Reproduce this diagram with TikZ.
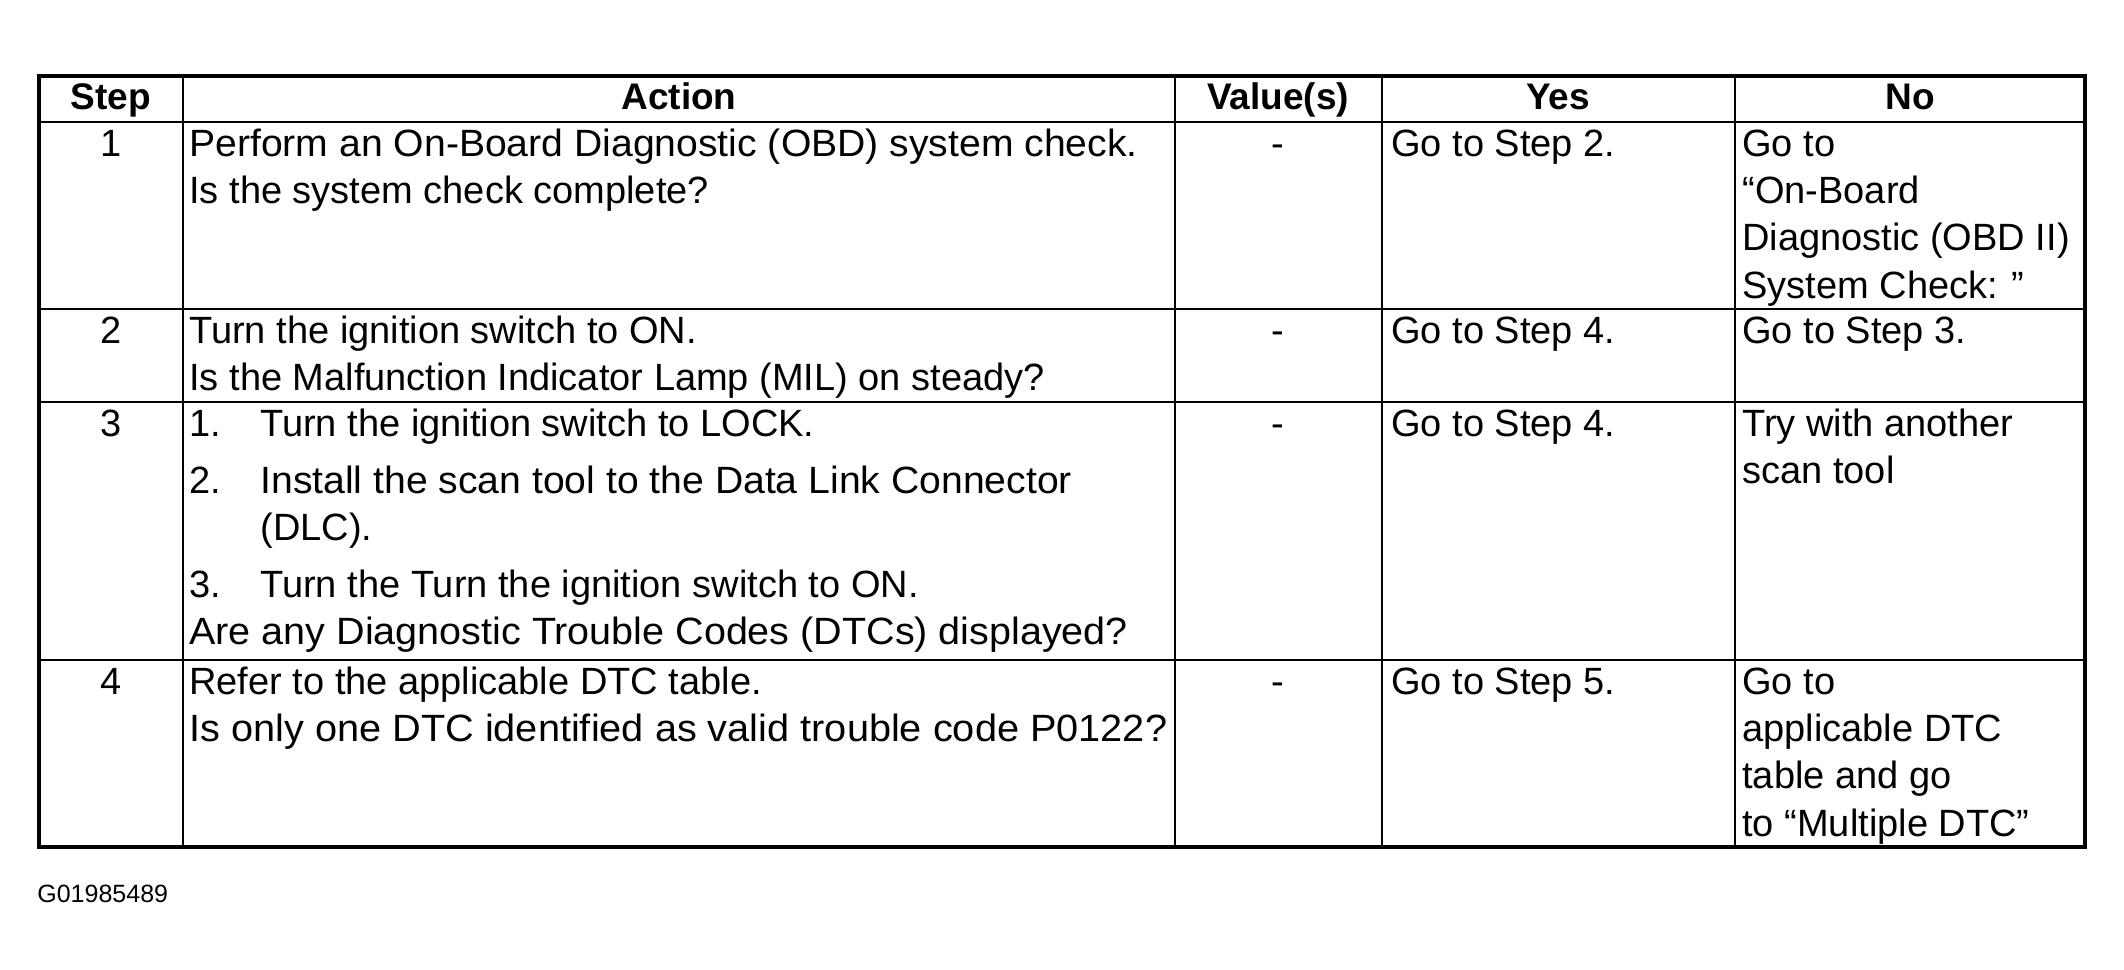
\documentclass[tikz,border=0pt]{standalone}
\usepackage{graphicx}
\usepackage{fontspec}
\setmainfont{Liberation Sans}
\newcommand\myBody{\fontsize{19pt}{23.7pt}\selectfont}
\newcommand\myHead{\fontsize{18.5pt}{22pt}\selectfont\bfseries}
\newcommand\myTag{\fontsize{12.5pt}{15pt}\selectfont}
\newcommand\wider[2]{\scalebox{#1}[1]{#2}}
\tikzset{
  tl/.style={anchor=base west,inner sep=0pt,font=\myBody},
  tc/.style={anchor=base,inner sep=0pt,font=\myBody},
  th/.style={anchor=base,inner sep=0pt,font=\myHead},
  tag/.style={anchor=base west,inner sep=0pt,font=\myTag},
  outerrule/.style={line width=2pt},
  headrule/.style={line width=1.4pt},
  rowrule/.style={line width=1.2pt},
  colrule/.style={line width=1pt},
}
\begin{document}
\begin{tikzpicture}[x=0.5pt,y=-0.5pt]
\useasboundingbox (0,0) rectangle (2124,969);
\fill[white] (0,0) rectangle (2124,969);
% column rules
\draw[colrule] (183,76) -- (183,847);
\draw[colrule] (1175,76) -- (1175,847);
\draw[colrule] (1382,76) -- (1382,847);
\draw[colrule] (1735,76) -- (1735,847);
% row rules
\draw[headrule] (39,122) -- (2085,122);
\draw[rowrule] (39,309) -- (2085,309);
\draw[rowrule] (39,402) -- (2085,402);
\draw[rowrule] (39,660) -- (2085,660);
% frame
\draw[outerrule] (39,76) rectangle (2085,847);
% header
\node[th] (hstep) at (111,109) {Step};
\node[th] (hact) at (679,109) {Action};
\node[th] (hval) at (1278,109) {Value(s)};
\node[th] (hyes) at (1558,109) {Yes};
\node[th] (hno) at (1910,109) {No};
% row 1
\node[tc] (s1) at (111,156) {1};
\node[tl] (a1a) at (189,156) {\wider{1.03}{Perform an On-Board Diagnostic (OBD) system check.}};
\node[tl] (a1b) at (189,203.4) {Is the system check complete?};
\node[tc] (v1) at (1278,156) {-};
\node[tl] (y1) at (1391,156) {Go to Step 2.};
\node[tl] (n1a) at (1742,156) {Go to};
\node[tl] (n1b) at (1742,203.4) {“On-Board};
\node[tl] (n1c) at (1742,250.8) {Diagnostic (OBD II)};
\node[tl] (n1d) at (1742,298.2) {System Check: ”};
% row 2
\node[tc] (s2) at (111,343) {2};
\node[tl] (a2a) at (189,343) {Turn the ignition switch to ON.};
\node[tl] (a2b) at (189,390.4) {Is the Malfunction Indicator Lamp (MIL) on steady?};
\node[tc] (v2) at (1278,343) {-};
\node[tl] (y2) at (1391,343) {Go to Step 4.};
\node[tl] (n2) at (1742,343) {Go to Step 3.};
% row 3
\node[tc] (s3) at (111,436) {3};
\node[tl] (a3n1) at (189,436) {1.};
\node[tl] (a3a) at (260,436) {Turn the ignition switch to LOCK.};
\node[tl] (a3n2) at (189,493) {2.};
\node[tl] (a3b) at (260,493) {\wider{1.03}{Install the scan tool to the Data Link Connector}};
\node[tl] (a3c) at (260,540.4) {(DLC).};
\node[tl] (a3n3) at (189,597.4) {3.};
\node[tl] (a3d) at (260,597.4) {Turn the Turn the ignition switch to ON.};
\node[tl] (a3e) at (189,644.8) {\wider{1.04}{Are any Diagnostic Trouble Codes (DTCs) displayed?}};
\node[tc] (v3) at (1278,436) {-};
\node[tl] (y3) at (1391,436) {Go to Step 4.};
\node[tl] (n3a) at (1742,436) {Try with another};
\node[tl] (n3b) at (1742,483.4) {scan tool};
% row 4
\node[tc] (s4) at (111,694) {4};
\node[tl] (a4a) at (189,694) {Refer to the applicable DTC table.};
\node[tl] (a4b) at (189,741.4) {\wider{1.045}{Is only one DTC identified as valid trouble code P0122?}};
\node[tc] (v4) at (1278,694) {-};
\node[tl] (y4) at (1391,694) {Go to Step 5.};
\node[tl] (n4a) at (1742,694) {Go to};
\node[tl] (n4b) at (1742,741.4) {applicable DTC};
\node[tl] (n4c) at (1742,788.8) {table and go};
\node[tl] (n4d) at (1742,836.2) {to “Multiple DTC”};
% figure tag
\node[tag] (figtag) at (37,902) {G01985489};
\end{tikzpicture}
\end{document}
